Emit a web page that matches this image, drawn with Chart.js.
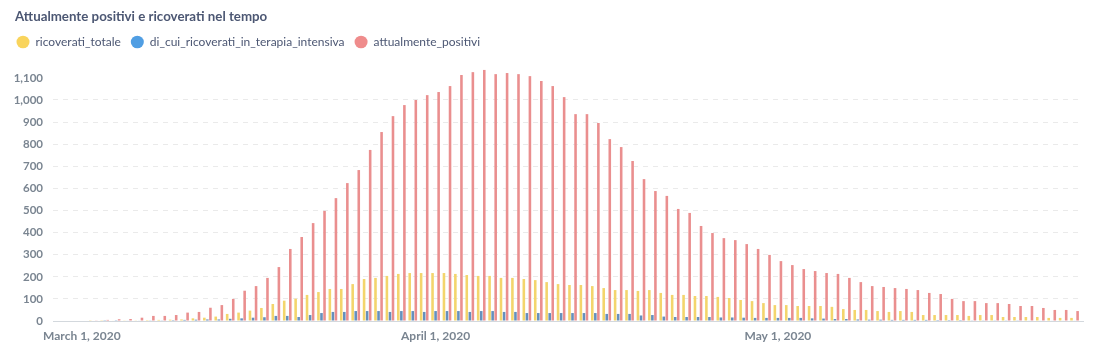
<!DOCTYPE html>
<html lang="it">
<head>
  <meta charset="UTF-8" />
  <title>Attualmente positivi e ricoverati nel tempo</title>
  <script src="https://cdn.jsdelivr.net/npm/chart.js"></script>
  <style>
    html, body { margin: 0; padding: 0; background: #fff; }
    body { width: 1099px; height: 353px; position: relative; overflow: hidden; font-family: Lato, sans-serif; }
    #title {
      position: absolute; left: 15px; top: 8px;
      font-size: 13.3px; line-height: 16px; font-weight: 700; color: #4c5773;
    }
    #wrap { position: absolute; left: 0; top: 0; width: 1099px; height: 353px; }
  </style>
</head>
<body>

<div id="wrap"><canvas id="chart" width="1099" height="353"></canvas></div>
<div id="title">Attualmente positivi e ricoverati nel tempo</div>

<script>
  // one bar group per day, starting here
  const firstDay = '2020-03-02';

  const ricoveratiTotale = [
    1, 1, 2, 3, 3, 4, 5, 6,
    7, 12, 15, 20, 32, 38, 47, 59, 77,
    92, 101, 118, 131, 145, 145, 167, 190, 195, 204, 213, 217, 217, 217, 217, 213, 208, 204, 204, 195, 195, 190, 185, 176, 167, 163, 163,
    158, 149, 140, 140, 136, 140, 127, 118, 118, 113, 113, 109, 104, 95, 90, 81, 72, 72, 68, 68, 68, 64,
    54, 50, 50, 45, 41, 45, 41, 27, 27, 27, 27, 23, 27, 27, 18, 18, 18, 18, 14, 14, 14
  ];
  const terapiaIntensiva = [
    0, 1, 1, 2, 2, 3, 3, 4, 5, 6, 7, 7, 10, 12, 15, 17, 23,
    23, 18, 27, 36, 41, 41, 45, 45, 45, 41, 45, 45, 41, 45, 45, 45, 41, 45, 45, 41, 41, 36, 36, 36, 36, 36,
    36, 36, 32, 32, 32, 25, 27, 20, 18, 18, 18, 18, 16, 16, 15, 14, 14, 14, 14, 14, 12, 11,
    9, 9, 7, 6, 6, 5, 5, 5, 5, 4, 4, 4, 3, 3, 3, 3, 3, 2, 2, 2, 2, 2
  ];
  const attualmentePositivi = [
    3, 5, 8, 9, 15, 23, 23, 27, 38, 41,
    60, 72, 100, 137, 158, 195, 244, 326, 380, 443,
    498, 556, 624, 683, 774, 855, 927, 977, 1000, 1022,
    1036, 1063, 1113, 1126, 1136, 1117, 1122, 1117, 1108, 1086,
    1063, 1013, 936, 936, 896, 823, 787, 724, 642, 588,
    566, 507, 489, 430, 398, 375, 366, 348, 326, 299,
    271, 253, 235, 226, 217, 213, 195, 176, 158, 154,
    149, 145, 140, 127, 122, 100, 90, 90, 81, 81,
    77, 68, 68, 59, 50, 50, 45
  ];

  const seriesNames = ['ricoverati_totale', 'di_cui_ricoverati_in_terapia_intensiva', 'attualmente_positivi'];
  const legendColors = ['#F9D45C', '#509EE3', '#EF8C8C'];
  const barColors = ['#f3d56c', '#6590bd', '#ea8f8f'];

  const tickDates = ['2020-03-01', '2020-04-01', '2020-05-01'];
  const tickLabels = ['March 1, 2020', 'April 1, 2020', 'May 1, 2020'];
  const yTicks = [0, 100, 200, 300, 400, 500, 600, 700, 800, 900, 1000, 1100];

  // x is "days since March 1"
  function dayNum(iso) {
    const [y, m, d] = iso.split('-').map(Number);
    return (Date.UTC(y, m - 1, d) - Date.UTC(2020, 2, 1)) / 864e5;
  }
  const start = dayNum(firstDay);
  const toPoints = arr => arr.map((v, i) => ({ x: start + i, y: v }));
  const tickValues = tickDates.map(dayNum);

  Chart.defaults.font.family = 'Lato, sans-serif';

  const ctx = document.getElementById('chart').getContext('2d');
  new Chart(ctx, {
    type: 'bar',
    data: {
      datasets: [ricoveratiTotale, terapiaIntensiva, attualmentePositivi].map((arr, i) => ({
        label: seriesNames[i],
        data: toPoints(arr),
        backgroundColor: barColors[i],
        borderWidth: 0,
        categoryPercentage: 0.8,
        barPercentage: 0.85
      }))
    },
    options: {
      responsive: false,
      animation: false,
      layout: { padding: { left: 6.5, right: 16, top: 26, bottom: 0 } },
      scales: {
        x: {
          type: 'linear',
          offset: false,
          min: -2.53,
          max: 87.74,
          afterFit: axis => { axis.height = 32; },
          grid: { display: false, drawTicks: false },
          border: { display: true, color: '#d3d8dd', width: 1 },
          afterBuildTicks: axis => { axis.ticks = tickValues.map(v => ({ value: v })); },
          ticks: {
            autoSkip: false,
            maxRotation: 0,
            padding: 8,
            color: '#7a8591',
            font: { size: 12, weight: 'bold' },
            callback: v => tickLabels[tickValues.indexOf(v)]
          }
        },
        y: {
          min: 0,
          max: 1190,
          afterFit: axis => { axis.width = 46.5; },
          afterBuildTicks: axis => { axis.ticks = yTicks.map(v => ({ value: v })); },
          grid: {
            drawTicks: false,
            color: c => (c.tick && (c.tick.value === 0 || c.tick.value === 1100)) ? 'rgba(0,0,0,0)' : '#eaeaea'
          },
          border: { display: false, dash: [5, 5] },
          ticks: {
            autoSkip: false,
            padding: 10,
            color: '#7a8591',
            font: { size: 11.5, weight: 'bold' },
            callback: v => v.toLocaleString('en-US')
          }
        }
      },
      plugins: {
        legend: {
          position: 'top',
          align: 'start',
          labels: {
            usePointStyle: true,
            pointStyle: 'circle',
            pointStyleWidth: 13,
            boxHeight: 9,
            padding: 10,
            color: '#4c5773',
            font: { size: 12 },
            generateLabels: chart => chart.data.datasets.map((ds, i) => ({
              text: ds.label,
              fillStyle: legendColors[i],
              strokeStyle: legendColors[i],
              lineWidth: 0,
              pointStyle: 'circle',
              fontColor: '#4c5773',
              hidden: false,
              datasetIndex: i
            }))
          }
        },
        tooltip: { enabled: false }
      }
    }
  });
</script>
</body>
</html>
